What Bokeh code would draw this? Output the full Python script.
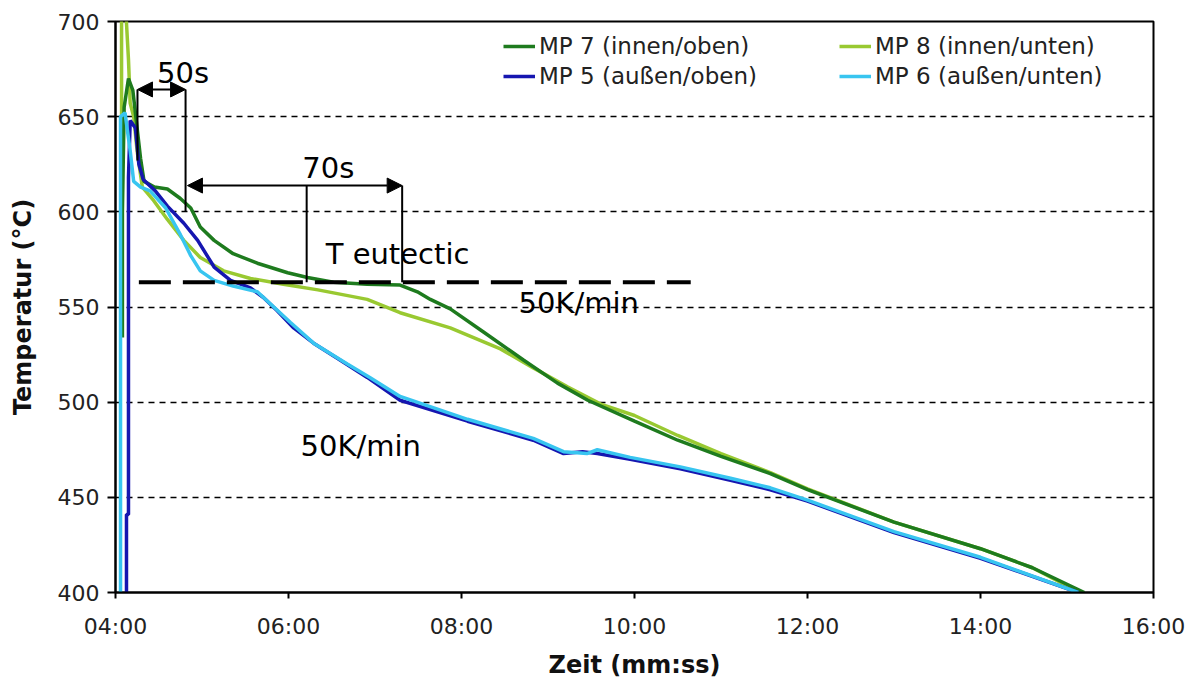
from bokeh.plotting import figure
from bokeh.models import Range1d, FixedTicker, Legend, LegendItem, Arrow, NormalHead
from bokeh.core.properties import value
from bokeh.embed import file_html
from bokeh.resources import INLINE

# ---- data: time in minutes, temperature in °C ----
mp7_time = [4.08, 4.08, 4.10, 4.15, 4.20, 4.24, 4.29, 4.33, 4.45, 4.60, 4.75, 4.87, 4.98, 5.14,
            5.36, 5.64, 5.99, 6.22, 6.52, 6.91, 7.29, 7.49, 7.64, 7.87, 8.25, 8.72, 9.11, 9.46,
            10.0, 10.5, 11.0, 11.57, 12.0, 13.0, 14.0, 14.6, 15.2]
mp7_temp = [534, 600, 655, 670, 664, 648, 628, 616, 613, 612, 607, 602, 592, 585,
            578, 573, 568, 565.5, 563, 562, 561.5, 558, 554, 549, 537, 522, 510, 501,
            490, 480, 471.5, 462.5, 454, 437, 423, 413, 400]

mp8_time = [4.07, 4.07, 4.12, 4.15, 4.17, 4.21, 4.25, 4.31, 4.44, 4.60, 4.79, 4.98, 5.25, 5.56,
            5.94, 6.34, 6.91, 7.29, 7.87, 8.45, 8.83, 9.23, 9.61, 10.0, 10.5, 11.0, 11.57,
            12.0, 13.0, 14.0, 14.6, 15.15]
mp8_temp = [560, 705, 705, 680, 657, 650, 632, 613, 606, 596, 585, 576, 569, 565,
            562, 559, 554, 547, 539, 528, 518, 508, 499, 493, 482.5, 473, 463,
            454.5, 437, 423, 413, 400]

mp5_time = [4.127, 4.127, 4.15, 4.15, 4.17, 4.23, 4.27, 4.32, 4.46, 4.60, 4.79, 4.95, 5.14, 5.33,
            5.56, 5.71, 5.87, 6.06, 6.29, 6.60, 6.91, 7.29, 8.07, 8.83, 9.18, 9.40, 9.57, 9.95,
            10.53, 11.11, 11.57, 12.0, 13.0, 14.0, 15.13]
mp5_temp = [400, 441, 441, 618, 648, 644, 625, 617, 611, 603, 594, 585, 571, 564,
            560, 555, 548, 539, 531, 522, 513, 501, 490, 480, 473, 474, 473, 470,
            465, 459, 454, 448, 431.5, 418, 400]

mp6_time = [4.058, 4.058, 4.11, 4.17, 4.21, 4.29, 4.40, 4.58, 4.75, 4.87, 4.98, 5.14, 5.36, 5.64,
            5.83, 6.02, 6.29, 6.68, 6.94, 7.29, 8.07, 8.83, 9.18, 9.45, 9.57, 9.95, 10.53,
            11.11, 11.57, 12.0, 13.0, 14.0, 15.13]
mp6_temp = [400, 650, 652, 632, 616, 613, 611, 602, 588, 577, 569, 564, 561, 558,
            550, 542, 531, 520, 513, 503, 491, 481, 474, 473, 475, 471, 466,
            460, 455, 448.5, 432, 418.5, 400]

series_names = ["MP 7 (innen/oben)", "MP 8 (innen/unten)", "MP 5 (außen/oben)", "MP 6 (außen/unten)"]
series_colors = ["#1E7B1E", "#99C931", "#1616B0", "#38C5F0"]

x_ticks = [4, 6, 8, 10, 12, 14, 16]
x_tick_labels = ["04:00", "06:00", "08:00", "10:00", "12:00", "14:00", "16:00"]
y_ticks = [400, 450, 500, 550, 600, 650, 700]

t_eutectic = 563
eutectic_span = [4.27, 10.65]

# annotation geometry (data units)
arrow_50s = dict(x0=4.254, x1=4.81, y=664.3)
arrow_70s = dict(x0=4.832, x1=7.314, y=613.8)
bracket_x0 = [4.254, 4.81, 6.21, 7.314]
bracket_y0 = [664.3, 664.3, 613.8, 613.8]
bracket_y1 = [627, 600.5, 563, 563]
note_texts = ["50s", "70s", "T eutectic", "50K/min", "50K/min"]
note_x = [4.48, 6.16, 6.43, 8.66, 6.14]
note_y = [673, 623, 578, 552, 477]

FONT = "DejaVu Sans"

p = figure(width=1193, height=681, x_range=Range1d(4, 16), y_range=Range1d(400, 700),
           output_backend="svg", toolbar_location=None,
           min_border_left=115, min_border_right=40, min_border_top=21, min_border_bottom=89)

p.xgrid.visible = False
p.ygrid.grid_line_color = "black"
p.ygrid.grid_line_dash = "6 5"
p.ygrid.grid_line_width = 1.3
p.outline_line_color = "black"
p.outline_line_width = 2

for ax in (p.xaxis[0], p.yaxis[0]):
    ax.axis_line_width = 2
    ax.axis_line_color = "black"
    ax.major_tick_line_color = "black"
    ax.major_tick_line_width = 2
    ax.major_tick_in = 0
    ax.minor_tick_line_color = None
    ax.major_label_text_font = FONT
    ax.major_label_text_font_size = "22px"
    ax.major_label_text_color = "#222222"
    ax.axis_label_text_font = FONT
    ax.axis_label_text_font_size = "24px"
    ax.axis_label_text_font_style = "bold"
    ax.axis_label_text_color = "#111111"

p.xaxis.ticker = FixedTicker(ticks=x_ticks)
p.xaxis.major_label_overrides = {t: l for t, l in zip(x_ticks, x_tick_labels)}
p.xaxis.major_tick_out = 6
p.xaxis.major_label_standoff = 15
p.xaxis.axis_label = "Zeit (mm:ss)"
p.xaxis.axis_label_standoff = 9

p.yaxis.ticker = FixedTicker(ticks=y_ticks)
p.yaxis.major_tick_out = 8
p.yaxis.major_label_standoff = 8
p.yaxis.axis_label = "Temperatur (°C)"
p.yaxis.axis_label_standoff = 18

r8 = p.line(mp8_time, mp8_temp, line_color=series_colors[1], line_width=3.5)
r7 = p.line(mp7_time, mp7_temp, line_color=series_colors[0], line_width=3.5)
r5 = p.line(mp5_time, mp5_temp, line_color=series_colors[2], line_width=3.5)
r6 = p.line(mp6_time, mp6_temp, line_color=series_colors[3], line_width=3.5)

# eutectic dashed line
p.line(eutectic_span, [t_eutectic, t_eutectic], line_color="black", line_width=4, line_dash="32 12")

# brackets
p.segment(x0=bracket_x0, y0=bracket_y0, x1=bracket_x0, y1=bracket_y1, line_color="black", line_width=2)
for a in (arrow_50s, arrow_70s):
    p.add_layout(Arrow(x_start=a["x0"], y_start=a["y"], x_end=a["x1"], y_end=a["y"],
                       line_color="black", line_width=2,
                       start=NormalHead(size=15, fill_color="black", line_color="black"),
                       end=NormalHead(size=15, fill_color="black", line_color="black")))

p.text(x=note_x, y=note_y, text=note_texts, text_font=value(FONT), text_font_size="29px",
       text_color="black", text_baseline="alphabetic", text_align="left")

legend = Legend(items=[LegendItem(label=series_names[0], renderers=[r7]),
                       LegendItem(label=series_names[2], renderers=[r5]),
                       LegendItem(label=series_names[1], renderers=[r8]),
                       LegendItem(label=series_names[3], renderers=[r6])],
                ncols=2, location=(388, 503))
legend.border_line_color = None
legend.background_fill_alpha = 0
legend.padding = 0
legend.margin = 0
legend.spacing = 4
legend.glyph_width = 32
legend.glyph_height = 24
legend.label_height = 24
legend.label_width = 296
legend.label_standoff = 4
legend.label_text_font = FONT
legend.label_text_font_size = "23px"
legend.label_text_color = "#222222"
p.add_layout(legend)

open("out.html", "w").write(file_html(p, INLINE))
